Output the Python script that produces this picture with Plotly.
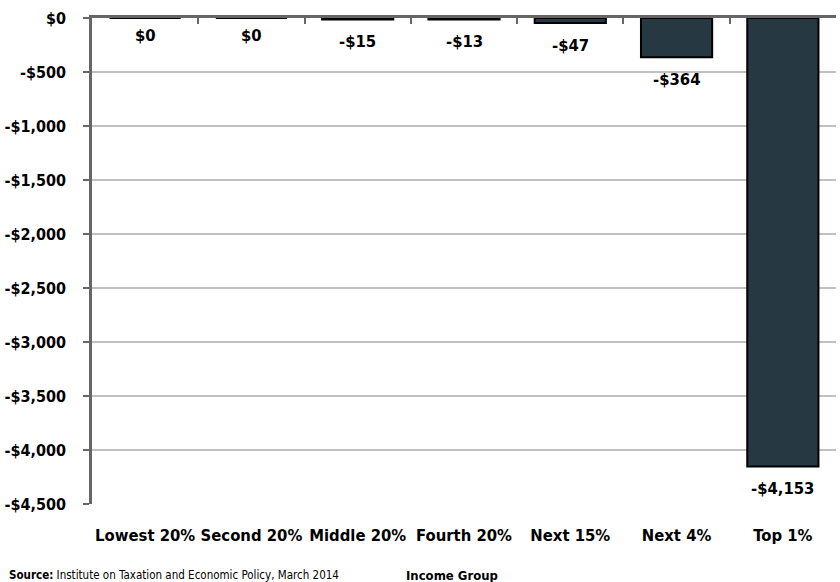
import plotly.graph_objects as go

categories = ["Lowest 20%", "Second 20%", "Middle 20%", "Fourth 20%", "Next 15%", "Next 4%", "Top 1%"]
values = [0, 0, -15, -13, -47, -364, -4153]
labels = ["$0", "$0", "-$15", "-$13", "-$47", "-$364", "-$4,153"]
ytick_vals = [0, -500, -1000, -1500, -2000, -2500, -3000, -3500, -4000, -4500]
ytick_text = ["$0", "-$500", "-$1,000", "-$1,500", "-$2,000", "-$2,500", "-$3,000", "-$3,500", "-$4,000", "-$4,500"]

FONT = "DejaVu Sans Condensed, sans-serif"

L, R, T, B = 92, 4, 18, 78
W, H = 840, 582
pw, ph = W - L - R, H - T - B

def px(x):
    return (x - L) / pw

def py(y):
    return (H - B - y) / ph

fig = go.Figure()
fig.add_trace(go.Bar(
    x=categories, y=values,
    marker=dict(color="#263842", line=dict(color="#000000", width=2)),
    showlegend=False, hoverinfo="skip",
))
fig.add_trace(go.Scatter(x=categories, y=[None]*len(categories), xaxis="x2", showlegend=False, hoverinfo="skip"))

annotations = []
for c, v, t in zip(categories, values, labels):
    annotations.append(dict(
        x=c, y=v, xref="x", yref="y", text=t, showarrow=False, yanchor="middle",
        yshift=-17 if v == 0 else -22,
        font=dict(family=FONT, size=16.5, color="#000000", weight="bold"),
    ))
annotations += [
    dict(text="Income Group", x=px(452), y=py(575), xref="paper", yref="paper", showarrow=False,
         yanchor="middle", font=dict(family=FONT, size=13, weight="bold")),
    dict(text="<b>Source:</b> Institute on Taxation and Economic Policy, March 2014",
         x=px(7), y=py(575), xref="paper", yref="paper", xanchor="left", yanchor="middle",
         showarrow=False, font=dict(family=FONT, size=11.5)),
]

fig.update_layout(
    width=W, height=H,
    margin=dict(l=L, r=R, t=T, b=B),
    paper_bgcolor="white", plot_bgcolor="white",
    bargap=0.33,
    font=dict(family=FONT, color="#000000"),
    xaxis=dict(
        type="category", categoryarray=categories, showline=False, showgrid=False, ticks="",
        tickfont=dict(family=FONT, size=16.5, weight="bold"), ticklabelstandoff=19, automargin=False,
    ),
    xaxis2=dict(
        type="category", categoryarray=categories, overlaying="x", side="top", matches="x",
        showline=True, linecolor="#666666", linewidth=2.5, ticks="inside", ticklen=6,
        tickcolor="#666666", tickwidth=2, tickson="boundaries", showticklabels=False, showgrid=False,
        automargin=False,
    ),
    yaxis=dict(
        range=[-4500, 0], tickvals=ytick_vals, ticktext=ytick_text,
        showgrid=True, gridcolor="#c0c0c0", gridwidth=2, zeroline=False,
        showline=True, linecolor="#666666", linewidth=2.5, ticks="outside", ticklen=6,
        tickcolor="#666666", tickwidth=2, ticklabelstandoff=14, automargin=False,
        tickfont=dict(family=FONT, size=16, weight="bold"),
    ),
    annotations=annotations,
)

fig.write_html("out.html", config={"displayModeBar": False},
               post_script="document.body.style.margin='0';document.body.style.overflow='hidden';")
